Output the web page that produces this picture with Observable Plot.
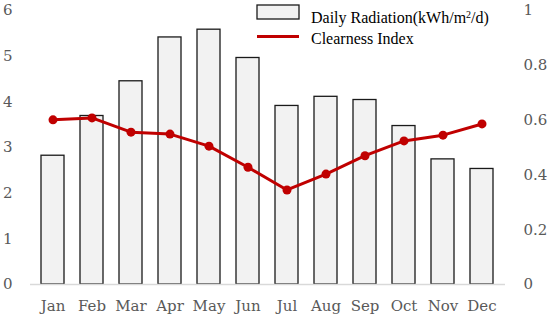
<!DOCTYPE html>
<html>
<head>
<meta charset="utf-8">
<script src="https://cdn.jsdelivr.net/npm/d3@7"></script>
<script src="https://cdn.jsdelivr.net/npm/@observablehq/plot@0.6"></script>
<style>
  html, body { margin: 0; padding: 0; background: #fff; }
  #chart { width: 550px; height: 322px; }
  #chart svg, #chart svg text { font-family: "DejaVu Serif", serif !important; }
  #chart svg g.legend text { font-family: "Liberation Serif", serif !important; }
</style>
</head>
<body>
<div id="chart"></div>
<script>
const months = ["Jan","Feb","Mar","Apr","May","Jun","Jul","Aug","Sep","Oct","Nov","Dec"];
const radiation = [2.82, 3.69, 4.45, 5.41, 5.58, 4.96, 3.91, 4.11, 4.04, 3.47, 2.74, 2.53];
const clearness = [0.601, 0.608, 0.556, 0.549, 0.505, 0.428, 0.345, 0.403, 0.470, 0.524, 0.545, 0.586];
const leftTicks = [0, 1, 2, 3, 4, 5, 6];
const rightTicks = [0, 0.2, 0.4, 0.6, 0.8, 1];
const leftMax = 6, rightMax = 1;
const k = leftMax / rightMax;

const rows = months.map((m, i) => ({month: m, rad: radiation[i], ci: clearness[i] * k}));

const plot = Plot.plot({
  width: 550,
  height: 322,
  marginLeft: 30,
  marginRight: 45,
  marginTop: 10,
  marginBottom: 38,
  style: {fontSize: "15px", color: "#595959", background: "#fff"},
  x: {domain: months, paddingInner: 0.41, paddingOuter: 0.205, label: null},
  y: {domain: [0, leftMax], label: null},
  marks: [
    Plot.barY(rows, {x: "month", y: "rad", fill: "#f2f2f2", stroke: "#1a1a1a", strokeWidth: 1.3}),
    Plot.ruleY([0], {stroke: "#d9d9d9", strokeWidth: 1.3}),
    Plot.line(rows, {x: "month", y: "ci", stroke: "#c00000", strokeWidth: 3}),
    Plot.dot(rows, {x: "month", y: "ci", fill: "#c00000", r: 4.5}),
    Plot.axisX({tickSize: 0, tickPadding: 16, fill: "#595959", label: null}),
    Plot.axisY({anchor: "left", ticks: leftTicks, tickFormat: d => String(d), tickSize: 0, tickPadding: 18, fill: "#595959", label: null}),
    Plot.axisY({anchor: "right", ticks: rightTicks.map(t => t * k), tickFormat: d => String(+(d / k).toFixed(1)), tickSize: 0, tickPadding: 18, fill: "#595959", label: null})
  ]
});
document.getElementById("chart").appendChild(plot);

// legend
const svg = d3.select(plot);
const lg = svg.append("g").attr("class", "legend").attr("font-size", 16)
  .attr("fill", "#000").attr("text-anchor", "start");
lg.append("rect").attr("x", 257).attr("y", 5).attr("width", 42).attr("height", 14)
  .attr("fill", "#f2f2f2").attr("stroke", "#1a1a1a").attr("stroke-width", 1.3);
const t1 = lg.append("text").attr("x", 311).attr("y", 17).attr("dy", "0.35em").attr("text-anchor", "start");
t1.append("tspan").text("Daily Radiation(kWh/m");
t1.append("tspan").attr("dy", -5).attr("font-size", 10).text("2");
t1.append("tspan").attr("dy", 5).text("/d)");
lg.append("line").attr("x1", 257).attr("x2", 299).attr("y1", 36.5).attr("y2", 36.5)
  .attr("stroke", "#c00000").attr("stroke-width", 3);
lg.append("text").attr("x", 311).attr("y", 38).attr("dy", "0.35em").attr("text-anchor", "start").text("Clearness Index");
</script>
</body>
</html>
